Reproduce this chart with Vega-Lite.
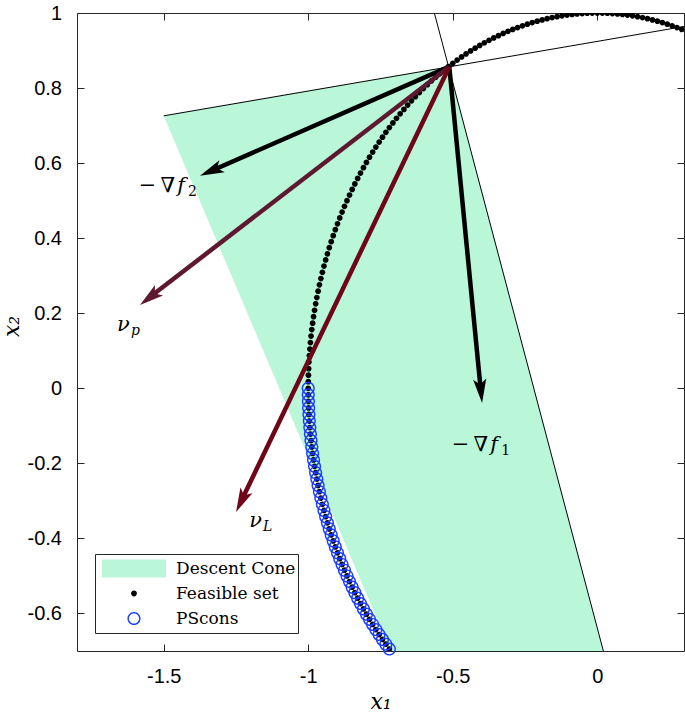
{
"$schema": "https://vega.github.io/schema/vega-lite/v6.json",
"width": 607, "height": 638,
"autosize": {"type": "none"},
"padding": {"left": 77, "top": 13, "right": 1, "bottom": 62},
"background": "white",
"config": {
  "view": {"stroke": "#262626", "strokeWidth": 1},
  "axis": {"grid": false, "domain": false, "tickColor": "#262626", "tickSize": -7, "tickWidth": 1,
    "labelFont": "Liberation Sans", "labelFontSize": 20, "labelColor": "#000000",
    "titleFont": "DejaVu Serif", "titleFontStyle": "italic", "titleFontWeight": "normal", "titleFontSize": 22, "titleColor": "#000000"},
  "legend": {"orient": "bottom-left", "offset": 18, "title": null, "strokeColor": "#262626", "fillColor": "white",
    "padding": 2, "symbolSize": 4096, "symbolStrokeWidth": 0, "symbolOpacity": 1, "clipHeight": 25, "rowPadding": 0,
    "symbolOffset": 5, "labelOffset": 10, "labelFont": "DejaVu Serif", "labelFontSize": 17, "labelColor": "#000000", "labelLimit": 300}
},
"datasets": {
  "cone": [
    {"y": -0.7, "x": -0.715, "x2": 0.021},
    {"y": 0.726, "x": -1.5, "x2": -0.469},
    {"y": 0.857, "x": -0.512, "x2": -0.512}
  ],
  "lines": [
    {"x": -1.5, "y": 0.726, "x2": 0.3, "y2": 0.964},
    {"x": -0.5637, "y": 1.0, "x2": 0.0211, "y2": -0.7}
  ],
  "arrows": [
    {"name": "f1", "x": -0.512, "y": 0.857, "xe": -0.4035, "ye": -0.002, "tx": -0.3986, "ty": -0.0392},
    {"name": "f2", "x": -0.512, "y": 0.857, "xe": -1.3303, "ye": 0.5811, "tx": -1.3744, "ty": 0.5661},
    {"name": "np", "x": -0.512, "y": 0.857, "xe": -1.5443, "ye": 0.2451, "tx": -1.582, "ty": 0.2222},
    {"name": "nL", "x": -0.512, "y": 0.857, "xe": -1.2291, "ye": -0.2963, "tx": -1.2497, "ty": -0.3298}
  ],
  "labels": [
    {"pre": "−\u2009∇", "main": "f", "sub": "2", "x": -1.426, "y": 0.522},
    {"pre": "−\u2009∇", "main": "f", "sub": "1", "x": -0.343, "y": -0.167},
    {"pre": "", "main": "ν", "sub": "p", "x": -1.617, "y": 0.153},
    {"pre": "", "main": "ν", "sub": "L", "x": -1.16, "y": -0.369}
  ],
  "circ": [
    {"x":0.2924,"y":0.9563},{"x":0.2756,"y":0.9613},{"x":0.2588,"y":0.9659},{"x":0.2419,"y":0.9703},{"x":0.2250,"y":0.9744},
    {"x":0.2079,"y":0.9781},{"x":0.1908,"y":0.9816},{"x":0.1736,"y":0.9848},{"x":0.1564,"y":0.9877},{"x":0.1392,"y":0.9903},
    {"x":0.1219,"y":0.9925},{"x":0.1045,"y":0.9945},{"x":0.0872,"y":0.9962},{"x":0.0698,"y":0.9976},{"x":0.0523,"y":0.9986},
    {"x":0.0349,"y":0.9994},{"x":0.0175,"y":0.9998},{"x":0.0,"y":1.0},
    {"x":-0.0175,"y":0.9998},{"x":-0.0349,"y":0.9994},{"x":-0.0523,"y":0.9986},{"x":-0.0698,"y":0.9976},{"x":-0.0872,"y":0.9962},
    {"x":-0.1045,"y":0.9945},{"x":-0.1219,"y":0.9925},{"x":-0.1392,"y":0.9903},{"x":-0.1564,"y":0.9877},{"x":-0.1736,"y":0.9848},
    {"x":-0.1908,"y":0.9816},{"x":-0.2079,"y":0.9781},{"x":-0.2250,"y":0.9744},{"x":-0.2419,"y":0.9703},{"x":-0.2588,"y":0.9659},
    {"x":-0.2756,"y":0.9613},{"x":-0.2924,"y":0.9563},{"x":-0.3090,"y":0.9511},{"x":-0.3256,"y":0.9455},{"x":-0.3420,"y":0.9397},
    {"x":-0.3584,"y":0.9336},{"x":-0.3746,"y":0.9272},{"x":-0.3907,"y":0.9205},{"x":-0.4067,"y":0.9135},{"x":-0.4226,"y":0.9063},
    {"x":-0.4384,"y":0.8988},{"x":-0.4540,"y":0.8910},{"x":-0.4695,"y":0.8829},{"x":-0.4848,"y":0.8746},{"x":-0.5000,"y":0.8660},
    {"x":-0.5150,"y":0.8572},{"x":-0.5299,"y":0.8480},{"x":-0.5446,"y":0.8387},{"x":-0.5592,"y":0.8290},{"x":-0.5736,"y":0.8192},
    {"x":-0.5878,"y":0.8090},{"x":-0.6018,"y":0.7986},{"x":-0.6157,"y":0.7880},{"x":-0.6293,"y":0.7771},{"x":-0.6428,"y":0.7660},
    {"x":-0.6561,"y":0.7547},{"x":-0.6691,"y":0.7431},{"x":-0.6820,"y":0.7314},{"x":-0.6947,"y":0.7193},{"x":-0.7071,"y":0.7071},
    {"x":-0.7193,"y":0.6947},{"x":-0.7314,"y":0.6820},{"x":-0.7431,"y":0.6691},{"x":-0.7547,"y":0.6561},{"x":-0.7660,"y":0.6428},
    {"x":-0.7771,"y":0.6293},{"x":-0.7880,"y":0.6157},{"x":-0.7986,"y":0.6018},{"x":-0.8090,"y":0.5878},{"x":-0.8192,"y":0.5736},
    {"x":-0.8290,"y":0.5592},{"x":-0.8387,"y":0.5446},{"x":-0.8480,"y":0.5299},{"x":-0.8572,"y":0.5150},{"x":-0.8660,"y":0.5000},
    {"x":-0.8746,"y":0.4848},{"x":-0.8829,"y":0.4695},{"x":-0.8910,"y":0.4540},{"x":-0.8988,"y":0.4384},{"x":-0.9063,"y":0.4226},
    {"x":-0.9135,"y":0.4067},{"x":-0.9205,"y":0.3907},{"x":-0.9272,"y":0.3746},{"x":-0.9336,"y":0.3584},{"x":-0.9397,"y":0.3420},
    {"x":-0.9455,"y":0.3256},{"x":-0.9511,"y":0.3090},{"x":-0.9563,"y":0.2924},{"x":-0.9613,"y":0.2756},{"x":-0.9659,"y":0.2588},
    {"x":-0.9703,"y":0.2419},{"x":-0.9744,"y":0.2250},{"x":-0.9781,"y":0.2079},{"x":-0.9816,"y":0.1908},{"x":-0.9848,"y":0.1736},
    {"x":-0.9877,"y":0.1564},{"x":-0.9903,"y":0.1392},{"x":-0.9925,"y":0.1219},{"x":-0.9945,"y":0.1045},{"x":-0.9962,"y":0.0872},
    {"x":-0.9976,"y":0.0698},{"x":-0.9986,"y":0.0523},{"x":-0.9994,"y":0.0349},{"x":-0.9998,"y":0.0175},{"x":-1.0,"y":0.0},
    {"x":-0.9998,"y":-0.0175},{"x":-0.9994,"y":-0.0349},{"x":-0.9986,"y":-0.0523},{"x":-0.9976,"y":-0.0698},{"x":-0.9962,"y":-0.0872},
    {"x":-0.9945,"y":-0.1045},{"x":-0.9925,"y":-0.1219},{"x":-0.9903,"y":-0.1392},{"x":-0.9877,"y":-0.1564},{"x":-0.9848,"y":-0.1736},
    {"x":-0.9816,"y":-0.1908},{"x":-0.9781,"y":-0.2079},{"x":-0.9744,"y":-0.2250},{"x":-0.9703,"y":-0.2419},{"x":-0.9659,"y":-0.2588},
    {"x":-0.9613,"y":-0.2756},{"x":-0.9563,"y":-0.2924},{"x":-0.9511,"y":-0.3090},{"x":-0.9455,"y":-0.3256},{"x":-0.9397,"y":-0.3420},
    {"x":-0.9336,"y":-0.3584},{"x":-0.9272,"y":-0.3746},{"x":-0.9205,"y":-0.3907},{"x":-0.9135,"y":-0.4067},{"x":-0.9063,"y":-0.4226},
    {"x":-0.8988,"y":-0.4384},{"x":-0.8910,"y":-0.4540},{"x":-0.8829,"y":-0.4695},{"x":-0.8746,"y":-0.4848},{"x":-0.8660,"y":-0.5000},
    {"x":-0.8572,"y":-0.5150},{"x":-0.8480,"y":-0.5299},{"x":-0.8387,"y":-0.5446},{"x":-0.8290,"y":-0.5592},{"x":-0.8192,"y":-0.5736},
    {"x":-0.8090,"y":-0.5878},{"x":-0.7986,"y":-0.6018},{"x":-0.7880,"y":-0.6157},{"x":-0.7771,"y":-0.6293},{"x":-0.7660,"y":-0.6428},
    {"x":-0.7547,"y":-0.6561},{"x":-0.7431,"y":-0.6691},{"x":-0.7314,"y":-0.6820},{"x":-0.7193,"y":-0.6947}
  ]
},
"resolve": {"axis": {"x": "independent", "y": "independent"}},
"layer": [
  {
    "data": {"name": "cone"},
    "mark": {"type": "area", "orient": "horizontal", "clip": true, "opacity": 1},
    "encoding": {
      "y": {"field": "y", "type": "quantitative",
        "scale": {"domain": [-0.7, 1], "nice": false, "zero": false},
        "axis": {"orient": "left", "values": [-0.6, -0.4, -0.2, 0, 0.2, 0.4, 0.6, 0.8, 1], "labelExpr": "'' + datum.value",
          "labelPadding": 22.5, "title": "x₂", "titleX": -59, "titleY": 313, "titleBaseline": "alphabetic", "titleAngle": -90}},
      "x": {"field": "x", "type": "quantitative",
        "scale": {"domain": [-1.8, 0.3], "nice": false, "zero": false},
        "axis": {"orient": "bottom", "values": [-1.5, -1, -0.5, 0], "labelExpr": "'' + datum.value",
          "labelPadding": 22.5, "title": "x₁", "titleY": 57, "titleBaseline": "alphabetic"}},
      "x2": {"field": "x2"},
      "color": {"datum": "Descent Cone", "type": "nominal",
        "scale": {"domain": ["Descent Cone", "Feasible set", "PScons"], "range": ["#baf6d8", "#000000", "#1a3dff"]}}
    }
  },
  {
    "data": {"name": "lines"},
    "mark": {"type": "rule", "color": "#000000", "strokeWidth": 1, "clip": true},
    "encoding": {
      "x": {"field": "x", "type": "quantitative", "axis": {"orient": "top", "values": [-1.5, -1, -0.5, 0], "labels": false, "title": null}},
      "y": {"field": "y", "type": "quantitative", "axis": {"orient": "right", "values": [-0.6, -0.4, -0.2, 0, 0.2, 0.4, 0.6, 0.8, 1], "labels": false, "title": null}},
      "x2": {"field": "x2"}, "y2": {"field": "y2"}
    }
  },
  {
    "data": {"name": "circ"},
    "mark": {"type": "point", "filled": true, "size": 4096, "opacity": 1, "strokeWidth": 0, "clip": true},
    "encoding": {
      "x": {"field": "x", "type": "quantitative", "axis": null},
      "y": {"field": "y", "type": "quantitative", "axis": null},
      "color": {"datum": "Feasible set", "type": "nominal"},
      "shape": {"datum": "Feasible set", "type": "nominal",
        "scale": {"domain": ["Descent Cone", "Feasible set", "PScons"],
          "range": ["M-1,-0.28H1V0.28H-1Z",
                    "M0.09,0A0.09,0.09,0,1,1,-0.09,0A0.09,0.09,0,1,1,0.09,0Z",
                    "M0.205,0A0.205,0.205,0,1,1,-0.205,0A0.205,0.205,0,1,1,0.205,0ZM0.16,0A0.16,0.16,0,1,0,-0.16,0A0.16,0.16,0,1,0,0.16,0Z"]}}
    }
  },
  {
    "data": {"name": "circ"},
    "transform": [{"filter": "datum.y <= 0"}],
    "mark": {"type": "point", "filled": true, "size": 4096, "opacity": 1, "strokeWidth": 0},
    "encoding": {
      "x": {"field": "x", "type": "quantitative", "axis": null},
      "y": {"field": "y", "type": "quantitative", "axis": null},
      "color": {"datum": "PScons", "type": "nominal"},
      "shape": {"datum": "PScons", "type": "nominal"}
    }
  },
  {
    "data": {"name": "arrows"},
    "mark": {"type": "rule", "strokeWidth": 4.5, "strokeCap": "butt"},
    "encoding": {
      "x": {"field": "x", "type": "quantitative", "axis": null},
      "y": {"field": "y", "type": "quantitative", "axis": null},
      "x2": {"field": "xe"}, "y2": {"field": "ye"},
      "stroke": {"field": "name", "type": "nominal", "legend": null,
        "scale": {"domain": ["f1", "f2", "np", "nL"], "range": ["#000000", "#000000", "#5e1830", "#6e0618"]}}
    }
  },
  {
    "data": {"name": "arrows"},
    "transform": [{"filter": "datum.name === 'f1'"}],
    "mark": {"type": "point", "shape": "M0,0L-0.55,2L0,1.55L0.55,2Z", "filled": true, "size": 576, "angle": 174.3, "color": "#000000", "opacity": 1, "strokeWidth": 0},
    "encoding": {"x": {"field": "tx", "type": "quantitative", "axis": null}, "y": {"field": "ty", "type": "quantitative", "axis": null}}
  },
  {
    "data": {"name": "arrows"},
    "transform": [{"filter": "datum.name === 'f2'"}],
    "mark": {"type": "point", "shape": "M0,0L-0.55,2L0,1.55L0.55,2Z", "filled": true, "size": 576, "angle": 246.3, "color": "#000000", "opacity": 1, "strokeWidth": 0},
    "encoding": {"x": {"field": "tx", "type": "quantitative", "axis": null}, "y": {"field": "ty", "type": "quantitative", "axis": null}}
  },
  {
    "data": {"name": "arrows"},
    "transform": [{"filter": "datum.name === 'np'"}],
    "mark": {"type": "point", "shape": "M0,0L-0.55,2L0,1.55L0.55,2Z", "filled": true, "size": 576, "angle": 232.4, "color": "#5e1830", "opacity": 1, "strokeWidth": 0},
    "encoding": {"x": {"field": "tx", "type": "quantitative", "axis": null}, "y": {"field": "ty", "type": "quantitative", "axis": null}}
  },
  {
    "data": {"name": "arrows"},
    "transform": [{"filter": "datum.name === 'nL'"}],
    "mark": {"type": "point", "shape": "M0,0L-0.55,2L0,1.55L0.55,2Z", "filled": true, "size": 576, "angle": 205.5, "color": "#6e0618", "opacity": 1, "strokeWidth": 0},
    "encoding": {"x": {"field": "tx", "type": "quantitative", "axis": null}, "y": {"field": "ty", "type": "quantitative", "axis": null}}
  },
  {
    "data": {"name": "labels"},
    "transform": [{"filter": "datum.pre != ''"}],
    "mark": {"type": "text", "font": "DejaVu Serif", "fontSize": 21, "align": "right", "baseline": "alphabetic", "dx": -10, "color": "#000000"},
    "encoding": {"x": {"field": "x", "type": "quantitative", "axis": null}, "y": {"field": "y", "type": "quantitative", "axis": null}, "text": {"field": "pre"}}
  },
  {
    "data": {"name": "labels"},
    "mark": {"type": "text", "font": "DejaVu Serif", "fontSize": 21, "fontStyle": "italic", "align": "right", "baseline": "alphabetic", "color": "#000000"},
    "encoding": {"x": {"field": "x", "type": "quantitative", "axis": null}, "y": {"field": "y", "type": "quantitative", "axis": null}, "text": {"field": "main"}}
  },
  {
    "data": {"name": "labels"},
    "transform": [{"filter": "datum.sub === '1' || datum.sub === '2'"}],
    "mark": {"type": "text", "font": "DejaVu Serif", "fontSize": 14, "align": "left", "baseline": "alphabetic", "dx": 3, "dy": 4, "color": "#000000"},
    "encoding": {"x": {"field": "x", "type": "quantitative", "axis": null}, "y": {"field": "y", "type": "quantitative", "axis": null}, "text": {"field": "sub"}}
  },
  {
    "data": {"name": "labels"},
    "transform": [{"filter": "datum.sub === 'p' || datum.sub === 'L'"}],
    "mark": {"type": "text", "font": "DejaVu Serif", "fontSize": 14, "fontStyle": "italic", "align": "left", "baseline": "alphabetic", "dx": 1, "dy": 4, "color": "#000000"},
    "encoding": {"x": {"field": "x", "type": "quantitative", "axis": null}, "y": {"field": "y", "type": "quantitative", "axis": null}, "text": {"field": "sub"}}
  }
]
}
